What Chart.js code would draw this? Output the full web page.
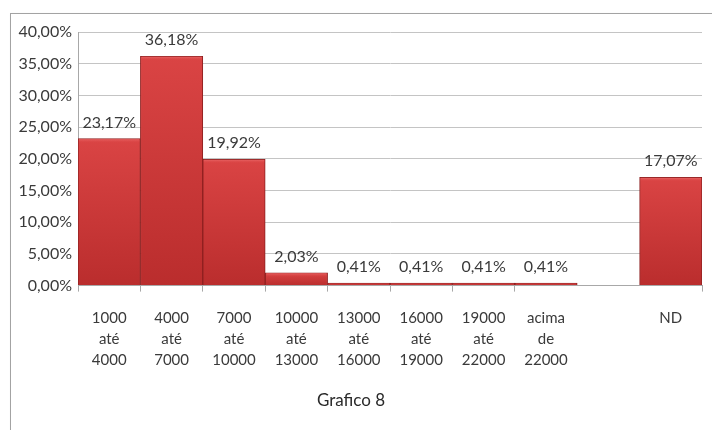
<!DOCTYPE html>
<html>
<head>
<meta charset="utf-8">
<title>Grafico 8</title>
<script src="https://cdn.jsdelivr.net/npm/chart.js@4"></script>
<style>
  body { margin: 0; background: #fff; }
  #frame { position: absolute; left: 10px; top: 13px; width: 720px; height: 440px; border: 1px solid #a3a3a3; box-shadow: 1px 1px 2px rgba(0,0,0,0.15); }
  #chart { position: absolute; left: 0; top: 0; }
</style>
</head>
<body>
<div id="frame"></div>
<canvas id="chart" width="712" height="430"></canvas>
<script>
// Renda familiar por faixa (percentual)
const categories = [
  ['1000', 'até', '4000'],
  ['4000', 'até', '7000'],
  ['7000', 'até', '10000'],
  ['10000', 'até', '13000'],
  ['13000', 'até', '16000'],
  ['16000', 'até', '19000'],
  ['19000', 'até', '22000'],
  ['acima', 'de', '22000'],
  '',
  'ND'
];
const percentages = [23.17, 36.18, 19.92, 2.03, 0.41, 0.41, 0.41, 0.41, null, 17.07];
const yTicks = [0, 5, 10, 15, 20, 25, 30, 35, 40];

const fontFamily = 'Lato, "Open Sans", sans-serif';
const textColor = '#3a3a3a';
const fmt = v => v.toFixed(2).replace('.', ',') + '%';

// vertical shading for each bar, from its top down to the baseline
function barFill(ctx) {
  const chart = ctx.chart;
  const v = ctx.raw;
  const ys = chart.scales.y;
  if (v == null || !ys) return '#cf3838';
  const top = ys.getPixelForValue(v);
  const base = ys.getPixelForValue(0);
  if (!isFinite(top) || !isFinite(base) || base - top < 1) return '#d23c3c';
  const g = chart.ctx.createLinearGradient(0, top, 0, base);
  g.addColorStop(0, '#da4444');
  g.addColorStop(1, '#ba2d2d');
  return g;
}

// light bevel on top of each bar plus the value above it
const barDecor = {
  id: 'barDecor',
  afterDatasetsDraw(chart) {
    const ctx = chart.ctx;
    const meta = chart.getDatasetMeta(0);
    ctx.save();
    meta.data.forEach((bar, i) => {
      const v = percentages[i];
      if (v == null) return;
      const left = bar.x - bar.width / 2 + 1;
      const w = bar.width - 2;
      const h = Math.min(4, bar.base - bar.y - 1);
      if (h > 0) {
        const g = ctx.createLinearGradient(0, bar.y, 0, bar.y + h);
        g.addColorStop(0, '#ec6c6c');
        g.addColorStop(1, 'rgba(218,68,68,0)');
        ctx.fillStyle = g;
        ctx.fillRect(left, bar.y + 0.5, w, h);
      }
      ctx.fillStyle = textColor;
      ctx.font = '16px ' + fontFamily;
      ctx.textAlign = 'center';
      ctx.textBaseline = 'alphabetic';
      ctx.fillText(fmt(v), bar.x, bar.y - 11);
    });
    ctx.restore();
  }
};

new Chart(document.getElementById('chart'), {
  type: 'bar',
  data: {
    labels: categories,
    datasets: [{
      data: percentages,
      backgroundColor: barFill,
      borderColor: '#8e1f1f',
      borderWidth: 1,
      categoryPercentage: 1,
      barPercentage: 1
    }]
  },
  options: {
    responsive: false,
    animation: false,
    devicePixelRatio: 1,
    layout: { padding: { left: 0, right: 10, top: 32, bottom: 0 } },
    scales: {
      y: {
        min: 0,
        max: 40,
        afterBuildTicks: s => { s.ticks = yTicks.map(v => ({ value: v })); },
        afterFit: s => { s.width = 78; },
        ticks: {
          callback: v => fmt(v),
          color: textColor,
          font: { family: fontFamily, size: 16 },
          padding: 6
        },
        grid: { color: '#c4c4c4', drawTicks: false },
        border: { color: '#a8a8a8' }
      },
      x: {
        afterFit: s => { s.height = 101; },
        grid: {
          offset: true,
          drawOnChartArea: false,
          tickLength: 6,
          color: ctx => (ctx.index === 8 || ctx.index === 9) ? 'rgba(0,0,0,0)' : '#a8a8a8'
        },
        border: { color: '#a8a8a8' },
        ticks: {
          color: textColor,
          font: { family: fontFamily, size: 15, lineHeight: 1.4 },
          padding: 16,
          maxRotation: 0,
          autoSkip: false
        }
      }
    },
    plugins: {
      legend: { display: false },
      tooltip: { enabled: false },
      title: {
        display: true,
        text: 'Grafico 8',
        position: 'bottom',
        color: '#2a2a2a',
        font: { family: fontFamily, size: 17, weight: 'normal' },
        padding: { top: 4, bottom: 19 }
      }
    }
  },
  plugins: [barDecor]
});
</script>
</body>
</html>
